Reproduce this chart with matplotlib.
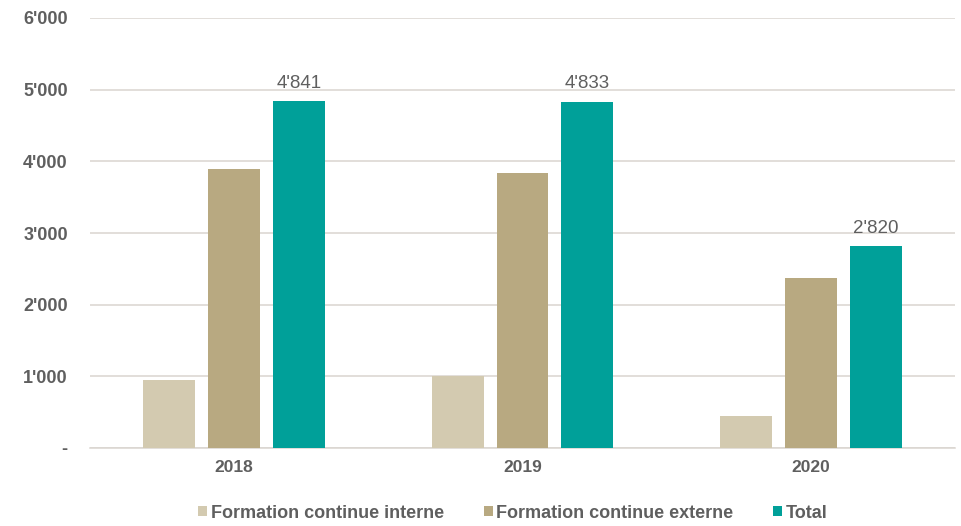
import matplotlib
matplotlib.use("Agg")
import matplotlib.pyplot as plt
import numpy as np

years = ["2018", "2019", "2020"]
interne = [950, 1000, 450]
externe = [3891, 3833, 2370]
total = [4841, 4833, 2820]
series_names = ["Formation continue interne", "Formation continue externe", "Total"]
colors = ["#D3CAB0", "#B8A981", "#00A099"]
yticks = [0, 1000, 2000, 3000, 4000, 5000, 6000]
ytick_labels = ["-", "1'000", "2'000", "3'000", "4'000", "5'000", "6'000"]

plt.rcParams['font.family'] = ['Liberation Sans', 'DejaVu Sans']
txt = "#5f5f5f"

fig = plt.figure(figsize=(9.61, 5.26), dpi=100)
ax = fig.add_axes([90/961, 1-448/526, 865/961, (448-18)/526])

x = np.arange(len(years))
w = 0.18
step = 0.225
for i, (vals, name, c) in enumerate(zip([interne, externe, total], series_names, colors)):
    bars = ax.bar(x + (i-1)*step, vals, w, color=c, label=name, zorder=3)
    if i == 2:
        for b, v in zip(bars, vals):
            s = f"{v:,}".replace(",", "'")
            ax.text(b.get_x()+b.get_width()/2, v + 130, s, ha="center", va="bottom",
                    fontsize=13.5, color=txt)

ax.set_xlim(-0.5, 2.5)
ax.set_ylim(0, 6000)
ax.set_yticks(yticks)
ax.set_yticklabels(ytick_labels, fontsize=13, color=txt, fontweight="bold")
ax.set_xticks(x)
ax.set_xticklabels(years, fontsize=12.5, color=txt, fontweight="bold")
ax.tick_params(axis="y", length=0, pad=16)
ax.tick_params(axis="x", length=0, pad=9)
ax.grid(axis="y", color="#DAD5D0", linewidth=1.1, zorder=0)
for s in ["top", "right", "left"]:
    ax.spines[s].set_visible(False)
ax.spines["bottom"].set_color("#DAD5D0")
ax.spines["bottom"].set_linewidth(1.1)

leg = fig.legend(loc="center", bbox_to_anchor=(513/961, 1-513/526), ncol=3, frameon=False,
                 fontsize=13, handlelength=0.5, handleheight=0.5, handletextpad=0.2,
                 columnspacing=2.2)
for t in leg.get_texts():
    t.set_color(txt)
    t.set_fontweight("bold")

fig.savefig("out.png", dpi=100)
